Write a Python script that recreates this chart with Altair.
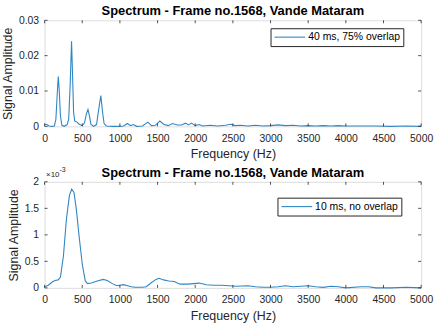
import altair as alt
import pandas as pd

TITLE = "Spectrum - Frame no.1568, Vande Mataram"
X_TITLE = "Frequency (Hz)"
Y_TITLE = "Signal Amplitude"
x_ticks = [0, 500, 1000, 1500, 2000, 2500, 3000, 3500, 4000, 4500, 5000]

top_label = "40 ms, 75% overlap"
top_freq = [0, 30, 60, 100, 130, 150, 170, 182, 195, 210, 230, 260, 300, 320, 340, 358,
            372, 385, 400, 430, 460, 500, 530, 555, 576, 595, 615, 650, 690, 720, 747,
            770, 790, 820, 900, 1000, 1050, 1100, 1140, 1180, 1220, 1300, 1370, 1420,
            1470, 1530, 1580, 1640, 1700, 1760, 1820, 1870, 1910, 1950, 2000, 2050, 2100,
            2200, 2300, 2400, 2470, 2530, 2600, 2700, 2800, 2900, 3000, 3100, 3200, 3300,
            3400, 3500, 3600, 3700, 3800, 3900, 4000, 4200, 4400, 4600, 4800, 5000]
top_amp = [0.0006, 0.0005, 0.0001, 0.0, 0.0001, 0.002, 0.010, 0.0141, 0.010, 0.003,
           0.0003, 0.0, 0.0005, 0.002, 0.012, 0.0241, 0.014, 0.004, 0.0015, 0.0012,
           0.0006, 0.0002, 0.001, 0.0035, 0.0048, 0.003, 0.0006, 0.0, 0.0005, 0.005,
           0.0087, 0.004, 0.0008, 0.0001, 0.0, 0.0, 0.0001, 0.0008, 0.0002, 0.0005, 0.0,
           0.0001, 0.0012, 0.0002, 0.0003, 0.0015, 0.0006, 0.0002, 0.0008, 0.0004, 0.0004,
           0.0009, 0.0004, 0.0009, 0.0002, 0.0005, 0.0001, 0.0003, 0.0001, 0.0003, 0.0006,
           0.0002, 0.0003, 0.0001, 0.0003, 0.0001, 0.0002, 0.0004, 0.0002, 0.0003, 0.0001,
           0.0002, 0.0001, 0.0002, 0.0001, 0.0002, 0.0001, 0.0001, 0.0001, 0.0, 0.0001, 0.0]
top_y_ticks = [0, 0.01, 0.02, 0.03]

bot_label = "10 ms, no overlap"
bot_freq = [0, 50, 100, 140, 180, 210, 250, 290, 330, 360, 390, 420, 460, 500, 540, 570,
            620, 700, 780, 830, 900, 960, 1000, 1050, 1100, 1150, 1200, 1300, 1350, 1420,
            1480, 1520, 1580, 1650, 1720, 1800, 1900, 1980, 2050, 2150, 2250, 2350, 2450,
            2550, 2700, 2800, 2900, 3000, 3100, 3200, 3300, 3400, 3500, 3600, 3700, 3800,
            3900, 4000, 4200, 4300, 4400, 4600, 4800, 5000]
bot_amp = [0.00002, 0.00005, 0.00011, 0.00014, 0.00015, 0.0002, 0.0006, 0.0013, 0.00175,
           0.00186, 0.0018, 0.0015, 0.00095, 0.00045, 0.00013, 0.00008, 0.00009, 0.00013,
           0.00016, 0.00014, 0.00008, 0.00004, 0.00005, 0.00006, 0.00004, 0.00002,
           0.00001, 0.00001, 0.00002, 0.0001, 0.00016, 0.00018, 0.00015, 0.00013,
           0.00012, 0.00007, 0.00007, 0.00008, 0.00009, 0.00006, 0.00005, 0.00005,
           0.00004, 0.00003, 0.00004, 0.00002, 0.00001, 0.00001, 0.00002, 0.00004,
           0.00002, 0.00003, 0.00004, 0.00002, 0.00001, 0.00003, 0.00002, 0.0, 0.00002,
           0.00002, 0.0, 0.0, 0.00001, 0.0]
bot_y_ticks = [0, 0.0005, 0.001, 0.0015, 0.002]

W, H = 380, 107
TICK = 3
LINE = "#2f86c4"
AX = "#262626"
FONT = "Liberation Sans"


def panel(freq, amp, label, yticks, ymax, label_expr, lx, ly, exponent):
    df = pd.DataFrame({"f": freq, "a": amp, "series": label})
    xt = pd.DataFrame({"f": x_ticks})
    yt = pd.DataFrame({"a": yticks})
    one = pd.DataFrame({"k": [1]})
    xscale = alt.Scale(domain=[0, 5000], nice=False, zero=False)
    yscale = alt.Scale(domain=[0, ymax], nice=False)
    xaxis = alt.Axis(values=x_ticks, format="d", title=X_TITLE, ticks=False,
                     domain=False, grid=False, labelPadding=7, titlePadding=4,
                     labelFontSize=10.5, titleFontSize=12.5, labelColor=AX,
                     titleColor=AX, titleFontWeight="normal", labelFont=FONT,
                     titleFont=FONT, labelFlush=False)
    yaxis = alt.Axis(values=yticks, labelExpr=label_expr, title=Y_TITLE,
                     ticks=False, domain=False, grid=False, labelPadding=6,
                     titlePadding=4, labelFontSize=10.5, titleFontSize=12.5,
                     labelColor=AX, titleColor=AX, titleFontWeight="normal",
                     labelFont=FONT, titleFont=FONT, labelFlush=False)
    X = alt.X("f:Q", scale=xscale, axis=xaxis)
    Y = alt.Y("a:Q", scale=yscale, axis=yaxis)

    line = alt.Chart(df).mark_line(strokeWidth=1.1, color=LINE).encode(
        x=X, y=Y,
        color=alt.Color("series:N",
                        scale=alt.Scale(domain=[label], range=[LINE]),
                        legend=alt.Legend(title=None, orient="none", legendX=lx,
                                          legendY=ly, symbolType="M-1,0H5.2",
                                          symbolSize=100, symbolStrokeWidth=1.1,
                                          labelFontSize=10.5, labelFont=FONT,
                                          labelColor="#000000", strokeColor=AX,
                                          fillColor="white", padding=3,
                                          labelOffset=23, cornerRadius=0)),
    )

    top_ticks = alt.Chart(xt).mark_rule(color=AX, strokeWidth=0.8).encode(
        x=X, y=alt.value(0), y2=alt.value(TICK))
    bottom_ticks = alt.Chart(xt).mark_rule(color=AX, strokeWidth=0.8).encode(
        x=X, y=alt.value(H - TICK), y2=alt.value(H))
    left_ticks = alt.Chart(yt).mark_rule(color=AX, strokeWidth=0.8).encode(
        y=Y, x=alt.value(0), x2=alt.value(TICK))
    right_ticks = alt.Chart(yt).mark_rule(color=AX, strokeWidth=0.8).encode(
        y=Y, x=alt.value(W - TICK), x2=alt.value(W))

    title = alt.Chart(one).mark_text(text=TITLE, fontSize=13, font=FONT,
                                     fontWeight="bold", color="#000000",
                                     align="center", baseline="alphabetic").encode(
        x=alt.value(W / 2), y=alt.value(-5))

    layers = [line, top_ticks, bottom_ticks, left_ticks, right_ticks, title]
    if exponent:
        base = alt.Chart(one).mark_text(text="\u00d710", fontSize=8, font=FONT,
                                        color=AX, align="left",
                                        baseline="alphabetic").encode(
            x=alt.value(1.5), y=alt.value(-4.5))
        sup = alt.Chart(one).mark_text(text="-3", fontSize=7, font=FONT,
                                       color=AX, align="left",
                                       baseline="alphabetic").encode(
            x=alt.value(15), y=alt.value(-10))
        layers += [base, sup]

    return alt.layer(*layers).properties(width=W, height=H)


top = panel(top_freq, top_amp, top_label, top_y_ticks, 0.03,
            "format(datum.value, '~g')", 228, 8, False)
bottom = panel(bot_freq, bot_amp, bot_label, bot_y_ticks, 0.002,
               "format(datum.value * 1000, '~g')", 235, 16, True)

chart = alt.vconcat(top, bottom, spacing=4).resolve_scale(color="independent").properties(
    padding={"left": 1, "top": 3, "right": 4, "bottom": 2},
    background="white",
).configure_view(stroke=AX, strokeWidth=0.8).configure(font=FONT)

chart.save("out.html", embed_options={"renderer": "svg", "actions": False})
